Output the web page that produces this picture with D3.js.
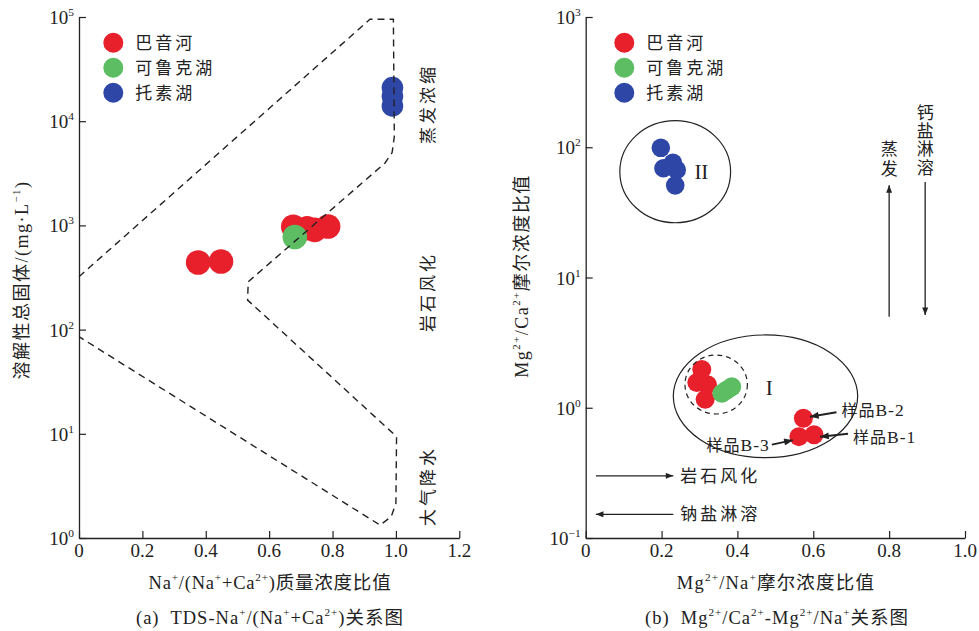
<!DOCTYPE html>
<html><head><meta charset="utf-8">
<script src="https://cdn.jsdelivr.net/npm/d3@7"></script>
<style>body{margin:0;background:#fff}</style>
</head><body><svg id="c" width="979" height="631"></svg>
<script>
// ---------- DATA ----------
const seriesNames = ["巴音河", "可鲁克湖", "托素湖"];

// Panel (a): TDS vs Na/(Na+Ca)
const aXTicks = [0, 0.2, 0.4, 0.6, 0.8, 1.0, 1.2];
const aXTickLabels = ["0", "0.2", "0.4", "0.6", "0.8", "1.0", "1.2"];
const aYTicks = [1, 10, 100, 1000, 10000, 100000];
const aYTickExp = ["0", "1", "2", "3", "4", "5"];
const aBayinX = [0.376, 0.448, 0.676, 0.72, 0.744, 0.786];
const aBayinY = [441, 450, 970, 940, 905, 975];
const aKelukeX = [0.681];
const aKelukeY = [775];
const aTosuX = [0.989, 0.989, 0.989];
const aTosuY = [21000, 17400, 14000];
// Gibbs boundary (dashed)
const aBoundX = [0, 0.918, 0.992, 0.995, 0.988, 0.965, 0.534, 0.532, 1.002, 1.0, 0.985, 0.95, 0];
const aBoundY = [322, 95000, 95000, 7100, 5000, 3950, 288, 192, 9.4, 2.15, 1.6, 1.33, 85.5];
const aRegionLabels = ["蒸发浓缩", "岩石风化", "大气降水"];

// Panel (b): Mg/Ca vs Mg/Na
const bXTicks = [0, 0.2, 0.4, 0.6, 0.8, 1.0];
const bXTickLabels = ["0", "0.2", "0.4", "0.6", "0.8", "1.0"];
const bYTicks = [0.1, 1, 10, 100, 1000];
const bYTickExp = ["−1", "0", "1", "2", "3"];
const bBayinX = [0.306, 0.293, 0.321, 0.315, 0.574, 0.602, 0.562];
const bBayinY = [1.97, 1.56, 1.50, 1.16, 0.83, 0.62, 0.60];
const bKelukeX = [0.359, 0.372, 0.385];
const bKelukeY = [1.29, 1.37, 1.45];
const bTosuX = [0.198, 0.23, 0.24, 0.205, 0.236];
const bTosuY = [99, 76, 67, 69, 51];
// ellipses: center x, center y, half-width (x units), half-height (decades)
const bEllipseNames = ["I", "II", "inner"];
const bEllipseCX = [0.474, 0.236, 0.344];
const bEllipseCY = [1.224, 64.9, 1.508];
const bEllipseRX = [0.243, 0.146, 0.0823];
const bEllipseRY = [0.471, 0.392, 0.2265];
const bSampleLabels = ["样品B-2", "样品B-1", "样品B-3"];
const bSampleIndex = [4, 5, 6];

// ---------- STYLE / LAYOUT ----------
const colors = ["#e8202c", "#5cbd62", "#2e47a6"];
const FONT = "'Liberation Serif','Noto Sans CJK SC',serif";
const CJK = "'Noto Sans CJK SC','Liberation Serif',sans-serif";
const ink = "#222";

const svg = d3.select("#c");
svg.append("rect").attr("width", 979).attr("height", 631).attr("fill", "#fff");

const defs = svg.append("defs");
defs.append("marker").attr("id", "ah").attr("viewBox", "0 0 10 8")
  .attr("refX", 10).attr("refY", 4).attr("markerWidth", 9).attr("markerHeight", 6)
  .attr("markerUnits", "userSpaceOnUse").attr("orient", "auto")
  .append("path").attr("d", "M0,0 L10,4 L0,8 Z").attr("fill", ink);
defs.append("marker").attr("id", "ah2").attr("viewBox", "0 0 10 8")
  .attr("refX", 10).attr("refY", 4).attr("markerWidth", 11).attr("markerHeight", 7)
  .attr("markerUnits", "userSpaceOnUse").attr("orient", "auto")
  .append("path").attr("d", "M0,0 L10,4 L0,8 Z").attr("fill", ink);

function rich(sel, str, size) {
  const parts = [];
  const re = /\^\{([^}]*)\}/g;
  let last = 0, m;
  while ((m = re.exec(str))) {
    if (m.index > last) parts.push({ t: str.slice(last, m.index), sup: false });
    parts.push({ t: m[1], sup: true });
    last = re.lastIndex;
  }
  if (last < str.length) parts.push({ t: str.slice(last), sup: false });
  let raised = false;
  const sh = size * 0.42;
  parts.forEach(p => {
    const ts = sel.append("tspan").text(p.t);
    if (p.sup) {
      ts.attr("font-size", size * 0.6);
      if (!raised) ts.attr("dy", -sh);
      raised = true;
    } else {
      if (raised) ts.attr("dy", sh);
      raised = false;
    }
  });
  return sel;
}
function txt(g, x, y, str, size, anchor, extra) {
  const t = g.append("text").attr("x", x).attr("y", y)
    .attr("font-family", FONT).attr("font-size", size).attr("fill", ink)
    .attr("text-anchor", anchor || "start");
  if (extra) extra(t);
  rich(t, str, size);
  return t;
}

function drawAxes(g, x, y, xTicks, xLabels, yTicks, yExp) {
  const xa = g.append("g").attr("transform", `translate(0,${y.range()[0]})`)
    .call(d3.axisBottom(x).tickValues(xTicks).tickSize(-7).tickSizeOuter(0).tickFormat(""));
  const ya = g.append("g").attr("transform", `translate(${x.range()[0]},0)`)
    .call(d3.axisLeft(y).tickValues(yTicks).tickSize(-7).tickSizeOuter(0).tickFormat(""));
  [xa, ya].forEach(a => {
    a.select(".domain").attr("stroke", ink).attr("stroke-width", 1.3);
    a.selectAll(".tick line").attr("stroke", ink).attr("stroke-width", 1.2);
  });
  xTicks.forEach((v, i) => {
    txt(g, x(v), y.range()[0] + 19, xLabels[i], 19, "middle");
  });
  yTicks.forEach((v, i) => {
    txt(g, x.range()[0] - 5, y(v) + 7, "10^{" + yExp[i] + "}", 19, "end");
  });
}

function points(g, x, y, xs, ys, color, r) {
  g.append("g").selectAll("circle").data(xs.map((v, i) => [v, ys[i]])).join("circle")
    .attr("cx", d => x(d[0])).attr("cy", d => y(d[1])).attr("r", r).attr("fill", color);
}

function legend(g, cx, cy0) {
  seriesNames.forEach((n, i) => {
    g.append("circle").attr("cx", cx).attr("cy", cy0 + i * 25).attr("r", 10).attr("fill", colors[i]);
    g.append("text").attr("x", cx + 22).attr("y", cy0 + i * 25 + 6)
      .attr("font-family", CJK).attr("font-size", 17).attr("fill", ink)
      .style("letter-spacing", "3px").text(n);
  });
}

// ---------- PANEL (a) ----------
const ga = svg.append("g");
const xa = d3.scaleLinear().domain([0, 1.2]).range([79, 459.3]);
const ya = d3.scaleLog().domain([1, 1e5]).range([538, 17]);
drawAxes(ga, xa, ya, aXTicks, aXTickLabels, aYTicks, aYTickExp);

points(ga, xa, ya, aBayinX, aBayinY, colors[0], 12.3);
points(ga, xa, ya, aKelukeX, aKelukeY, colors[1], 12.3);
points(ga, xa, ya, aTosuX, aTosuY, colors[2], 10.8);

ga.append("path")
  .attr("d", d3.line().x(d => xa(d[0])).y(d => ya(d[1]))(aBoundX.map((v, i) => [v, aBoundY[i]])))
  .attr("fill", "none").attr("stroke", ink).attr("stroke-width", 1.4)
  .attr("stroke-dasharray", "7,5");

const aLabelX = 428;
[104, 292, 486].forEach((cy, i) => {
  ga.append("text").attr("transform", `translate(${aLabelX + 6},${cy}) rotate(-90)`)
    .attr("text-anchor", "middle").attr("font-family", CJK).attr("font-size", 17)
    .attr("fill", ink).style("letter-spacing", "3px").text(aRegionLabels[i]);
});

legend(ga, 113.3, 42.7);

txt(ga, 0, 0, "溶解性总固体/(mg·L^{−1})", 18, "middle",
  t => t.attr("transform", "translate(28,280) rotate(-90)").style("letter-spacing", "1.5px"));
txt(ga, 270, 589, "Na^{+}/(Na^{+}+Ca^{2+})质量浓度比值", 18.5, "middle",
  t => t.style("letter-spacing", "0.8px"));
txt(ga, 270, 624, "(a)  TDS-Na^{+}/(Na^{+}+Ca^{2+})关系图", 18.5, "middle",
  t => t.style("letter-spacing", "1px").style("white-space", "pre"));

// ---------- PANEL (b) ----------
const gb = svg.append("g");
const xb = d3.scaleLinear().domain([0, 1]).range([585.7, 965]);
const yb = d3.scaleLog().domain([0.1, 1000]).range([538, 17]);
drawAxes(gb, xb, yb, bXTicks, bXTickLabels, bYTicks, bYTickExp);

points(gb, xb, yb, bBayinX, bBayinY, colors[0], 9.5);
points(gb, xb, yb, bKelukeX, bKelukeY, colors[1], 9.5);
points(gb, xb, yb, bTosuX, bTosuY, colors[2], 9.3);

bEllipseNames.forEach((n, i) => {
  const cx = xb(bEllipseCX[i]), cy = yb(bEllipseCY[i]);
  const rx = xb(bEllipseCX[i] + bEllipseRX[i]) - cx;
  const ry = cy - yb(bEllipseCY[i] * Math.pow(10, bEllipseRY[i]));
  gb.append("ellipse").attr("cx", cx).attr("cy", cy).attr("rx", rx).attr("ry", ry)
    .attr("fill", "none").attr("stroke", ink).attr("stroke-width", 1.2)
    .attr("stroke-dasharray", n === "inner" ? "5,4" : null);
});
// Roman labels
txt(gb, xb(0.484), yb(1.42) + 7, "I", 21, "middle");
txt(gb, xb(0.305), yb(64) + 7, "II", 21, "middle");

// Sample annotations: [tailDx, tailDy, tipDx, tipDy, textDy]
const sampOff = [[33, -6, 6.5, -1.5, 4], [34, -1, 6, 2, 9], [-27, 8, -6, 3.5, 6]];
bSampleIndex.forEach((pi, k) => {
  const px = xb(bBayinX[pi]), py = yb(bBayinY[pi]);
  const o = sampOff[k];
  gb.append("line").attr("x1", px + o[0]).attr("y1", py + o[1]).attr("x2", px + o[2]).attr("y2", py + o[3])
    .attr("stroke", ink).attr("stroke-width", 2).attr("marker-end", "url(#ah2)");
  const left = o[0] < 0;
  const t = gb.append("text").attr("x", px + o[0] + (left ? -2 : 5)).attr("y", py + o[1] + o[4])
    .attr("text-anchor", left ? "end" : "start").attr("font-family", FONT)
    .attr("font-size", 17.5).attr("fill", ink).style("letter-spacing", "1px");
  t.append("tspan").attr("font-family", CJK).attr("font-size", 16).text(bSampleLabels[k].slice(0, 2));
  t.append("tspan").text(bSampleLabels[k].slice(2));
});

// Horizontal process arrows
const hArrows = [[0.027, 0.231, 0.30, "岩石风化"], [0.231, 0.027, 0.152, "钠盐淋溶"]];
hArrows.forEach(a => {
  const yy = yb(a[2]);
  gb.append("line").attr("x1", xb(a[0])).attr("x2", xb(a[1])).attr("y1", yy).attr("y2", yy)
    .attr("stroke", ink).attr("stroke-width", 1.3).attr("marker-end", "url(#ah)");
  gb.append("text").attr("x", xb(0.231) + 7).attr("y", yy + 6).attr("font-family", CJK)
    .attr("font-size", 17).attr("fill", ink).style("letter-spacing", "3px").text(a[3]);
});
// Vertical process arrows (labels set in vertical writing mode)
const vArrows = [[0.8, 5.0, 51, "蒸发", 3], [0.895, 54, 5.15, "钙盐淋溶", 1.3]];
vArrows.forEach(a => {
  const xx = xb(a[0]);
  gb.append("line").attr("x1", xx).attr("x2", xx).attr("y1", yb(a[1])).attr("y2", yb(a[2]))
    .attr("stroke", ink).attr("stroke-width", 1.3).attr("marker-end", "url(#ah)");
  const top = Math.min(yb(a[1]), yb(a[2]));
  const n = a[3].length;
  const len = n * (17 + a[4]);
  gb.append("text").attr("x", xx).attr("y", top - 5 - len)
    .attr("font-family", CJK).attr("font-size", 17).attr("fill", ink)
    .style("writing-mode", "vertical-rl").style("text-orientation", "upright")
    .style("letter-spacing", a[4] + "px").text(a[3]);
});

legend(gb, 624.3, 42.7);

txt(gb, 0, 0, "Mg^{2+}/Ca^{2+}摩尔浓度比值", 18, "middle",
  t => t.attr("transform", "translate(528,276) rotate(-90)").style("letter-spacing", "1.5px"));
txt(gb, 776, 589, "Mg^{2+}/Na^{+}摩尔浓度比值", 18.5, "middle",
  t => t.style("letter-spacing", "1.2px"));
txt(gb, 777, 624, "(b)  Mg^{2+}/Ca^{2+}-Mg^{2+}/Na^{+}关系图", 18.5, "middle",
  t => t.style("letter-spacing", "1px").style("white-space", "pre"));
</script>
</body></html>
